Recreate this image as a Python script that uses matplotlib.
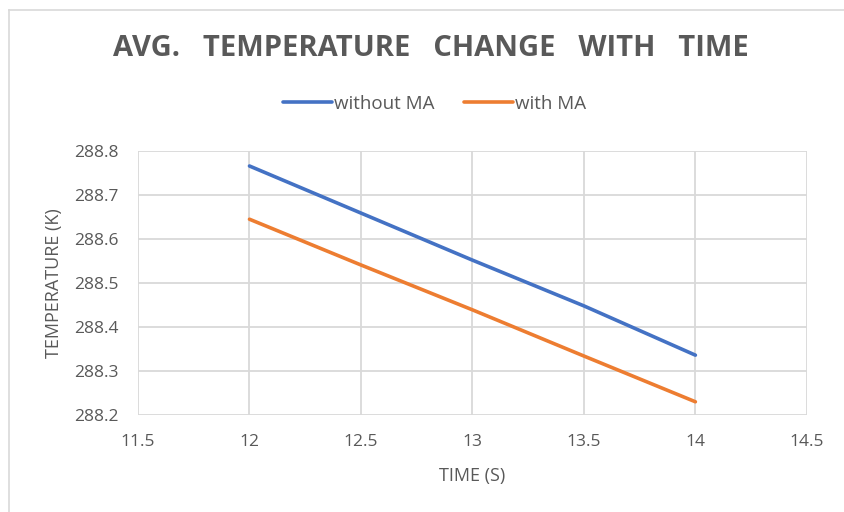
import matplotlib
matplotlib.use("Agg")
import matplotlib.pyplot as plt
from matplotlib.lines import Line2D

time_s = [12, 12.5, 13, 13.5, 14]
temp_without_ma = [288.766, 288.659, 288.552, 288.448, 288.336]
temp_with_ma = [288.645, 288.541, 288.439, 288.334, 288.230]

x_ticks = [11.5, 12, 12.5, 13, 13.5, 14, 14.5]
y_ticks = [288.2, 288.3, 288.4, 288.5, 288.6, 288.7, 288.8]

grey = "#595959"
plt.rcParams['font.family'] = ['Open Sans', 'DejaVu Sans']

fig = plt.figure(figsize=(8.44, 5.12), dpi=100)
ax = fig.add_axes([0.1635, 0.1895, 0.7925, 0.5155])

ax.plot(time_s, temp_without_ma, color="#4472C4", linewidth=2.6, label="without MA", solid_capstyle="round")
ax.plot(time_s, temp_with_ma, color="#ED7D31", linewidth=2.6, label="with MA", solid_capstyle="round")

ax.set_xlim(11.5, 14.5)
ax.set_ylim(288.2, 288.8)
ax.set_xticks(x_ticks)
ax.set_yticks(y_ticks)
ax.set_xticklabels([f"{v:g}" for v in x_ticks])
ax.set_yticklabels([f"{v:.1f}" for v in y_ticks])
ax.tick_params(length=0, colors=grey, labelsize=12.5)
ax.tick_params(axis='x', pad=14)
ax.tick_params(axis='y', pad=14)
ax.grid(True, color="#d9d9d9", linewidth=1.3)
ax.set_axisbelow(True)
for s in ax.spines.values():
    s.set_visible(False)

ax.set_xlabel("TIME (S)", color=grey, fontsize=13, labelpad=12)
ax.set_ylabel("TEMPERATURE (K)", color=grey, fontsize=13, labelpad=8)

fig.text(0.51, 0.906, "AVG.   TEMPERATURE   CHANGE   WITH   TIME", ha="center", va="center",
         fontsize=21, fontweight="bold", color=grey)

ax.legend(loc="center", bbox_to_anchor=(0.515, 0.797), bbox_transform=fig.transFigure,
          ncol=2, frameon=False, fontsize=13.5, handlelength=2.6, handletextpad=0.1,
          columnspacing=1.6, labelcolor=grey)

# light frame around the chart area
fig.add_artist(Line2D([9/844, 1], [1 - 10/512, 1 - 10/512], color="#d9d9d9", linewidth=1.2))
fig.add_artist(Line2D([9/844, 9/844], [0, 1 - 10/512], color="#d9d9d9", linewidth=1.2))

fig.savefig("out.png", dpi=100)
